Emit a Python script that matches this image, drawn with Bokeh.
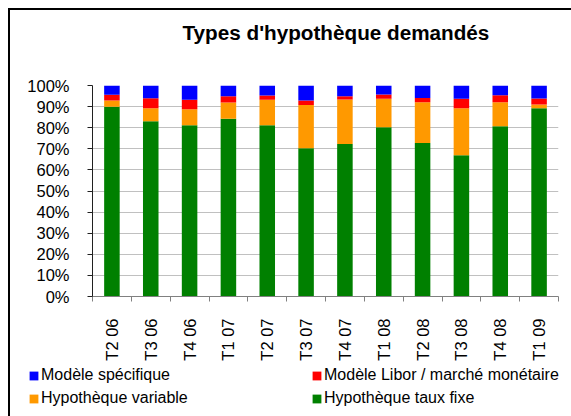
import math
from bokeh.plotting import figure
from bokeh.models import (Range1d, FixedTicker, PrintfTickFormatter, Legend, LegendItem, Label)
from bokeh.layouts import column
from bokeh.embed import file_html
from bokeh.resources import INLINE

categories = ["T2 06", "T3 06", "T4 06", "T1 07", "T2 07", "T3 07",
              "T4 07", "T1 08", "T2 08", "T3 08", "T4 08", "T1 09"]
fixe = [89.9, 83.1, 81.2, 84.3, 81.2, 70.3, 72.3, 80.2, 72.8, 66.9, 80.7, 89.2]
variable = [3.0, 6.1, 7.6, 7.6, 12.0, 20.4, 21.1, 13.5, 19.3, 22.3, 11.4, 1.8]
libor = [2.7, 4.8, 4.4, 3.0, 2.1, 2.2, 1.5, 2.0, 2.0, 4.5, 3.3, 2.8]
specifique = [4.4, 6.0, 6.8, 5.1, 4.7, 7.1, 5.1, 4.3, 5.9, 6.3, 4.6, 6.2]
y_ticks = [0, 10, 20, 30, 40, 50, 60, 70, 80, 90, 100]

title_text = "Types d'hypothèque demandés"
series_names = ["Hypothèque taux fixe", "Hypothèque variable",
                "Modèle Libor / marché monétaire", "Modèle spécifique"]
colors = ["#008000", "#FF9900", "#FF0000", "#0000FF"]

FONT = "Liberation Sans"
W = 561


def bare_figure(height):
    f = figure(width=W, height=height, output_backend="svg", toolbar_location=None,
               x_range=Range1d(0, 1), y_range=Range1d(0, 1),
               x_axis_location=None, y_axis_location=None,
               min_border_left=0, min_border_right=0, min_border_top=0, min_border_bottom=0)
    f.outline_line_color = None
    f.grid.visible = False
    f.border_fill_color = "white"
    f.background_fill_color = "white"
    return f


# ---- title strip
tf = bare_figure(60)
tf.add_layout(Label(x=172, y=38, x_units="screen", y_units="screen", text=title_text,
                    text_font=FONT, text_font_size="20.7px", text_font_style="bold",
                    text_color="black", text_align="left", text_baseline="alphabetic"))

# ---- chart
x_pos = [i + 0.5 for i in range(len(categories))]
source = dict(x=x_pos, fixe=fixe, variable=variable, libor=libor, specifique=specifique)

p = figure(width=W, height=293, output_backend="svg", toolbar_location=None,
           x_range=Range1d(0, len(categories)), y_range=Range1d(0, 100),
           min_border_left=82, min_border_right=13, min_border_top=15, min_border_bottom=67)
p.outline_line_color = None
p.background_fill_color = "white"
p.border_fill_color = "white"

renderers = p.vbar_stack(["fixe", "variable", "libor", "specifique"], x="x", width=0.4,
                         color=colors, line_color=None, source=source)

p.xaxis.ticker = FixedTicker(ticks=x_pos, minor_ticks=list(range(len(categories) + 1)))
p.xaxis.major_label_overrides = {x: c for x, c in zip(x_pos, categories)}
p.xaxis.major_label_orientation = math.pi / 2
p.xaxis.major_tick_line_color = None
p.xaxis.major_tick_out = 5
p.xaxis.major_tick_in = 0
p.xaxis.minor_tick_line_color = "#808080"
p.xaxis.minor_tick_out = 5
p.xaxis.minor_tick_in = 0
p.xaxis.axis_line_color = "#808080"
p.xaxis.major_label_standoff = 17
p.xaxis.major_label_text_font = FONT
p.xaxis.major_label_text_font_size = "16.5px"
p.xaxis.major_label_text_color = "black"

p.yaxis.ticker = FixedTicker(ticks=y_ticks)
p.yaxis.formatter = PrintfTickFormatter(format="%d%%")
p.yaxis.major_tick_out = 5
p.yaxis.major_tick_in = 0
p.yaxis.minor_tick_line_color = None
p.yaxis.axis_line_color = "#202020"
p.yaxis.major_tick_line_color = "#202020"
p.yaxis.major_label_standoff = 18
p.yaxis.major_label_text_font = FONT
p.yaxis.major_label_text_font_size = "16.5px"
p.yaxis.major_label_text_color = "black"

p.xgrid.grid_line_color = None
p.ygrid.grid_line_color = "#C0C0C0"
p.ygrid.grid_line_width = 1

# ---- legend strip
lg = bare_figure(53)
swatches = [lg.vbar(x=[0], top=[0], bottom=[0], width=0.01, color=c, line_color=None)
            for c in colors]
order = [3, 2, 1, 0]  # row-major: spécifique, Libor / variable, fixe
items = [LegendItem(label=series_names[i], renderers=[swatches[i]]) for i in order]
legend = Legend(items=items, location=(18, 9), orientation="horizontal", ncols=2,
                padding=0, margin=0, border_line_color=None, background_fill_alpha=0,
                glyph_width=11, glyph_height=11, label_standoff=2, label_width=265,
                label_height=11, spacing=5,
                label_text_font=FONT, label_text_font_size="16px", label_text_color="black")
lg.add_layout(legend)

for fig in (tf, p, lg):
    if "frame_align" in fig.properties():
        fig.frame_align = False

layout = column(tf, p, lg, spacing=0)
layout.styles = {"margin-left": "8px", "margin-top": "8px",
                 "border-left": "2px solid #000000", "border-top": "2px solid #000000"}

open("out.html", "w").write(file_html(layout, INLINE))
